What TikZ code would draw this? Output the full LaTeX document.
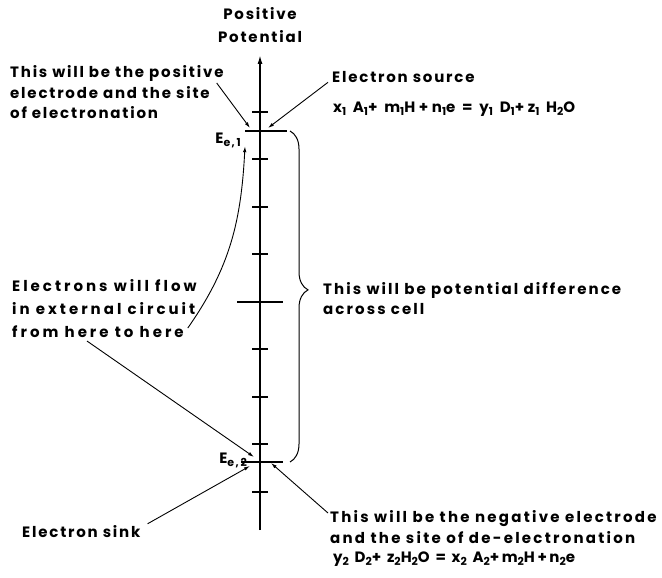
\documentclass[tikz,border=0pt]{standalone}
\usepackage{fontspec}
\setsansfont{Poppins}[LetterSpace=12]
\renewcommand{\familydefault}{\sfdefault}
\usepackage{tikz}
\usetikzlibrary{arrows.meta,decorations.pathreplacing}
\newcommand{\low}[1]{\raisebox{-3.5pt}{\fontsize{11}{11}\selectfont#1}}

\begin{document}
\begin{tikzpicture}[
  x=1pt,y=-1pt,
  every node/.style={font=\bfseries\fontsize{15}{20.5}\selectfont},
  txt/.style={align=left,anchor=north west,inner sep=0pt},
  lvl/.style={anchor=base east,inner sep=0pt},
  ptr/.style={-{Latex[length=6pt,width=3.5pt]},line width=0.9pt},
  tickline/.style={line width=1.5pt}
]
\useasboundingbox (0,0) rectangle (662,578);

% potential axis with ticks
\draw[tickline,-{Latex[length=9pt,width=5pt]}] (260,530) -- (260,55);
\foreach \y in {112,159,207,254,349,397,444,492}
  \draw[tickline] (252,\y) -- (268,\y);
\draw[tickline] (237,302) -- (283,302);

% electrode levels
\coordinate (e1l) at (245,131);
\coordinate (e1r) at (287,131);
\coordinate (e2l) at (241,462);
\coordinate (e2r) at (283,462);
\draw[tickline] (e1l) -- (e1r);
\draw[tickline] (e2l) -- (e2r);

\node[lvl] (eone) at (241,143) {E\low{e,\,1}};
\node[lvl] (etwo) at (247,463) {E\low{e,\,2}};

% texts
\node[anchor=north,align=center,inner sep=0pt,font=\bfseries\fontsize{15}{23}\selectfont] (pospot) at (260,7.5) {Positive\\Potential};
\node[txt] (posel) at (10,65.5) {This will be the positive\\electrode and the site\\of electronation};
\node[txt] (esource) at (332,71.5) {Electron source};
\node[txt,font=\bfseries\fontsize{15}{20}\selectfont\addfontfeatures{LetterSpace=24}] (eqone) at (333,101.5) {x\low1 A\low1+ m\low1H+n\low1e = y\low1 D\low1+z\low1 H\low2O};
\node[txt,font=\bfseries\fontsize{15}{23}\selectfont\addfontfeatures{LetterSpace=20}] (flow) at (12,279.5) {Electrons will flow\\in external circuit\\from here to here};
\node[txt,font=\bfseries\fontsize{15}{20}\selectfont\addfontfeatures{LetterSpace=14}] (diff) at (323,282.5) {This will be potential difference\\across cell};
\node[txt] (sink) at (22,525.5) {Electron sink};
\node[txt,font=\bfseries\fontsize{15}{21}\selectfont\addfontfeatures{LetterSpace=15}] (negel) at (330,510.5) {This will be the negative electrode\\and the site of de-electronation};
\node[txt,font=\bfseries\fontsize{15}{20}\selectfont\addfontfeatures{LetterSpace=17}] (eqtwo) at (333,551.5) {y\low2 D\low2+ z\low2H\low2O = x\low2 A\low2+m\low2H+n\low2e};

% pointers to the levels
\draw[ptr] ([shift={(-7,17.5)}]posel.north east) -- ([shift={(5,-3)}]e1l);
\draw[ptr] ([shift={(-4,5)}]esource.west) -- ([shift={(-19,-3)}]e1r);
\draw[ptr] ([shift={(-9,-10)}]flow.south east) to[out=55,in=-93] ([shift={(0,6)}]eone.east -| e1l);
\draw[ptr] ([shift={(75,3)}]flow.south west) -- ([shift={(13,-5)}]e2l);
\draw[ptr] ([shift={(7,-8)}]sink.east) -- ([shift={(9,4)}]e2l);
\draw[ptr] ([shift={(-2,2.5)}]negel.north west) -- ([shift={(-12,1)}]e2r);

% span between the two levels
\draw[line width=1pt,decorate,decoration={brace,amplitude=18pt,aspect=0.48}] (290,131) -- (290,462);
\end{tikzpicture}
\end{document}
